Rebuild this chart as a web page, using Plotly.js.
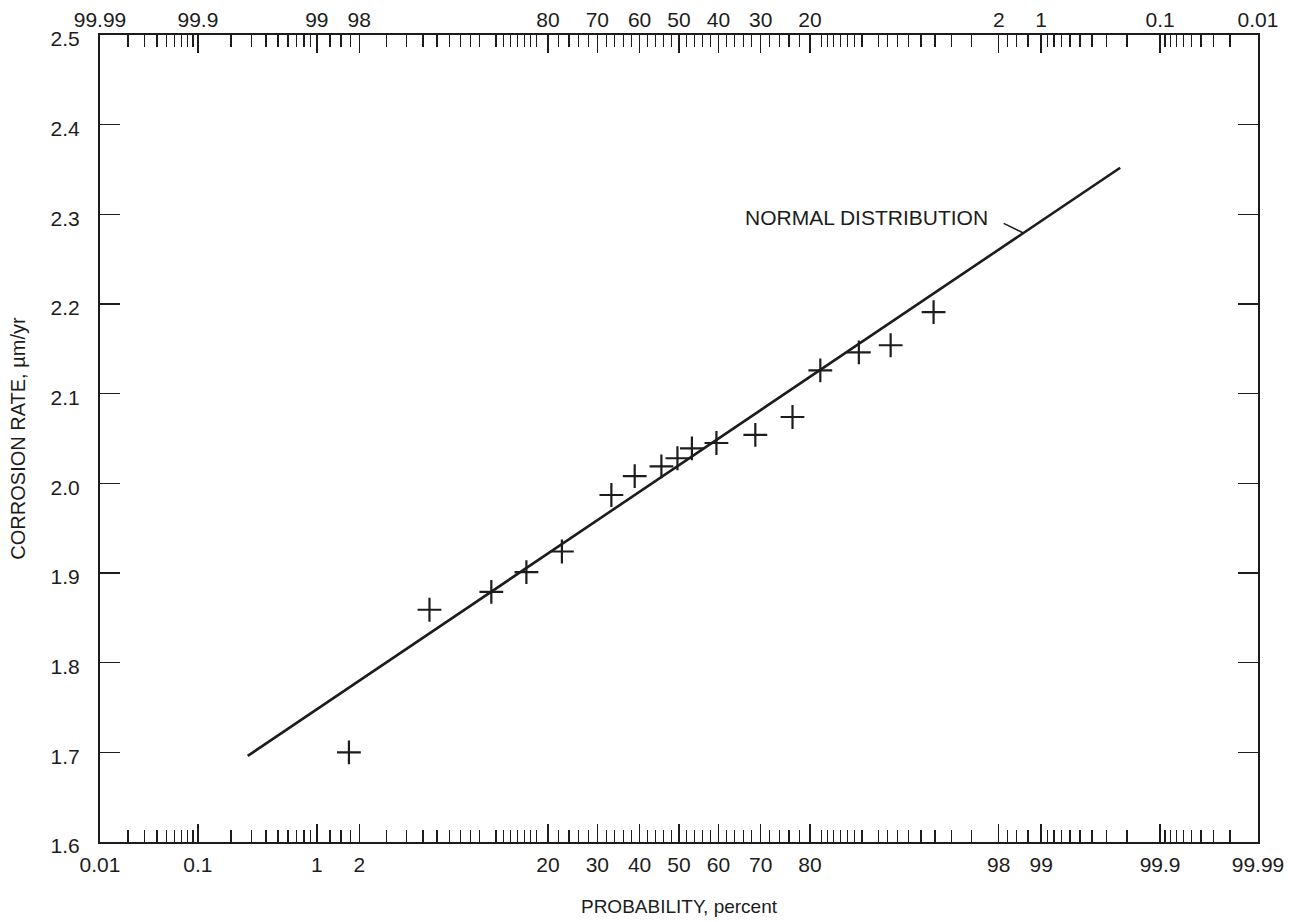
<!DOCTYPE html>
<html>
<head>
<meta charset="utf-8">
<script src="https://cdn.plot.ly/plotly-3.0.1.min.js"></script>
<style>html,body{margin:0;padding:0;background:#fff;}#chart{width:1292px;height:922px;}</style>
</head>
<body>
<div id="chart"></div>
<script>
// ---- data (probability in percent, rate in µm/yr) ----
var probPct = [1.70, 5.45, 11.4, 16.35, 22.6, 33.2, 38.8, 45.5, 49.6, 53.3, 59.5, 68.8, 76.7, 81.8, 87.6, 91.3, 94.9];
var rate    = [1.700, 1.859, 1.879, 1.901, 1.924, 1.987, 2.008, 2.019, 2.028, 2.039, 2.045, 2.054, 2.074, 2.126, 2.146, 2.154, 2.191];

// fitted normal distribution line (end points)
var fitPct  = [0.28, 99.77];
var fitRate = [1.696, 2.352];

// axis tick labels
var bottomLabels = ["0.01", "0.1", "1", "2", "20", "30", "40", "50", "60", "70", "80", "98", "99", "99.9", "99.99"];
var topLabels    = ["99.99", "99.9", "99", "98", "80", "70", "60", "50", "40", "30", "20", "2", "1", "0.1", "0.01"];
var yTicks = [1.6, 1.7, 1.8, 1.9, 2.0, 2.1, 2.2, 2.3, 2.4, 2.5];

// minor probability ticks (lower half, mirrored for the upper half)
var minorLow = [0.02,0.03,0.04,0.05,0.06,0.07,0.08,0.09,0.2,0.3,0.4,0.5,0.6,0.7,0.8,0.9,1.25,1.5,1.75,3,4,5,6,7,8,9,10,12,13,14,15,16,17,18,22,24,26,28,32,34,36,38,42,44,46,48];

// ---- probability scale transform (inverse standard normal CDF) ----
function normInv(p) {
  var a = [-3.969683028665376e+01, 2.209460984245205e+02, -2.759285104469687e+02, 1.383577518672690e+02, -3.066479806614716e+01, 2.506628277459239e+00];
  var b = [-5.447609879822406e+01, 1.615858368580409e+02, -1.556989798598866e+02, 6.680131188771972e+01, -1.328068155288572e+01];
  var c = [-7.784894002430293e-03, -3.223964580411365e-01, -2.400758277161838e+00, -2.549671010060191e+00, 4.374664141464968e+00, 2.938163982698783e+00];
  var d = [7.784695709041462e-03, 3.224671290700398e-01, 2.445134137142996e+00, 3.754408661907416e+00];
  var pl = 0.02425, q, r;
  if (p < pl) {
    q = Math.sqrt(-2 * Math.log(p));
    return (((((c[0]*q+c[1])*q+c[2])*q+c[3])*q+c[4])*q+c[5]) / ((((d[0]*q+d[1])*q+d[2])*q+d[3])*q+1);
  } else if (p <= 1 - pl) {
    q = p - 0.5; r = q * q;
    return (((((a[0]*r+a[1])*r+a[2])*r+a[3])*r+a[4])*r+a[5])*q / (((((b[0]*r+b[1])*r+b[2])*r+b[3])*r+b[4])*r+1);
  } else {
    q = Math.sqrt(-2 * Math.log(1 - p));
    return -(((((c[0]*q+c[1])*q+c[2])*q+c[3])*q+c[4])*q+c[5]) / ((((d[0]*q+d[1])*q+d[2])*q+d[3])*q+1);
  }
}
function zPct(v) { return normInv(parseFloat(v) / 100); }

var minorAll = minorLow.concat([50]).concat(minorLow.map(function (v) { return +(100 - v).toFixed(4); }));
var minorZ = minorAll.map(zPct);
var bottomZ = bottomLabels.map(zPct);
var topZ = topLabels.map(function (t) { return zPct(100 - parseFloat(t)); });
var xRange = [zPct(0.01), zPct(99.99)];

var ink = '#1c1c1c';
var fontFam = 'Liberation Sans, Arial, Helvetica, sans-serif';

var traces = [
  {
    x: fitPct.map(zPct), y: fitRate, mode: 'lines', type: 'scatter',
    line: {color: ink, width: 2.6}, hoverinfo: 'skip', showlegend: false
  },
  {
    x: probPct.map(zPct), y: rate, mode: 'markers', type: 'scatter',
    marker: {symbol: 'cross-thin', size: 17, color: ink, line: {color: ink, width: 2.2}},
    showlegend: false
  },
  { x: [], y: [], xaxis: 'x2', yaxis: 'y', type: 'scatter', showlegend: false }
];

// leader from the label to the fitted line
var leadP = 98.65;
var leadZ = zPct(leadP);
var slope = (fitRate[1] - fitRate[0]) / (zPct(fitPct[1]) - zPct(fitPct[0]));
var leadY = fitRate[0] + slope * (leadZ - zPct(fitPct[0]));

var layout = {
  width: 1292, height: 922,
  margin: {l: 100, r: 34, t: 35, b: 80, pad: 0},
  paper_bgcolor: '#ffffff', plot_bgcolor: '#ffffff',
  font: {family: fontFam, color: ink, size: 21},
  showlegend: false,
  xaxis: {
    range: xRange, tickmode: 'array', tickvals: bottomZ, ticktext: bottomLabels,
    ticks: 'inside', ticklen: 18, tickwidth: 1.5, tickcolor: ink,
    minor: {tickmode: 'array', tickvals: minorZ, ticks: 'inside', ticklen: 12, tickwidth: 1.3, tickcolor: ink},
    showline: true, linewidth: 2, linecolor: ink, mirror: true,
    showgrid: false, zeroline: false, ticklabelstandoff: 3,
    tickfont: {size: 21, family: fontFam, color: ink},
    title: {text: 'PROBABILITY, percent', font: {size: 19, family: fontFam, color: ink}, standoff: 24}
  },
  xaxis2: {
    overlaying: 'x', side: 'top', anchor: 'y', range: xRange,
    tickmode: 'array', tickvals: topZ, ticktext: topLabels,
    ticks: 'inside', ticklen: 18, tickwidth: 1.5, tickcolor: ink,
    minor: {tickmode: 'array', tickvals: minorZ, ticks: 'inside', ticklen: 12, tickwidth: 1.3, tickcolor: ink},
    showline: false, showgrid: false, zeroline: false, ticklabelstandoff: 3,
    tickfont: {size: 21, family: fontFam, color: ink}
  },
  yaxis: {
    range: [1.6, 2.5], tickmode: 'array', tickvals: yTicks, ticktext: yTicks.map(function (v) { return v.toFixed(1); }),
    ticks: 'inside', ticklen: 20, tickwidth: 1.5, tickcolor: ink,
    showline: true, linewidth: 2, linecolor: ink, mirror: 'ticks',
    showgrid: false, zeroline: false, ticklabelstandoff: 14, ticklabelshift: 4,
    tickfont: {size: 21, family: fontFam, color: ink},
    title: {text: 'CORROSION RATE, \u00b5m/yr', font: {size: 20, family: fontFam, color: ink}, standoff: 20}
  },
  annotations: [
    {
      xref: 'x', yref: 'y', x: zPct(97.7), y: 2.296, xanchor: 'right', yanchor: 'middle',
      text: 'NORMAL DISTRIBUTION', showarrow: false,
      font: {size: 21, family: fontFam, color: ink}
    }
  ],
  shapes: [
    {
      type: 'line', xref: 'x', yref: 'y',
      x0: zPct(98.15), y0: 2.29, x1: leadZ, y1: leadY,
      line: {color: ink, width: 1.5}
    }
  ]
};

Plotly.newPlot('chart', traces, layout, {displayModeBar: false, staticPlot: true});
</script>
</body>
</html>
